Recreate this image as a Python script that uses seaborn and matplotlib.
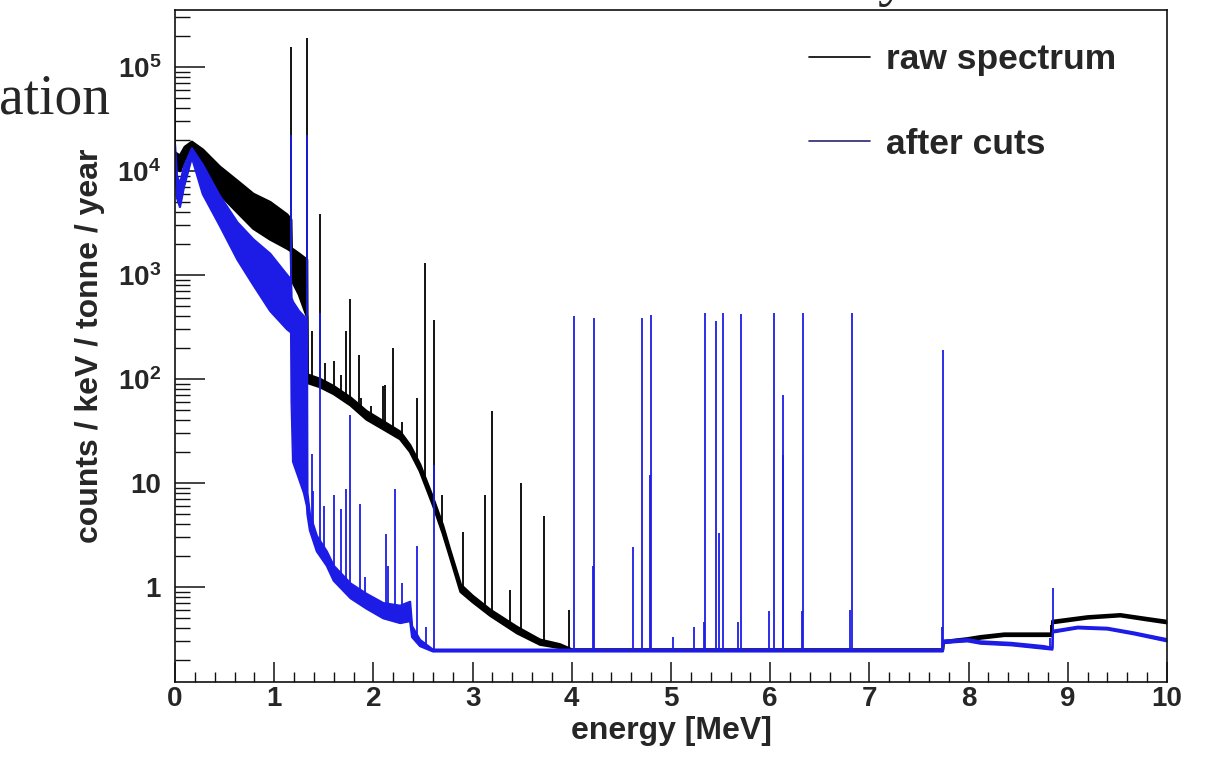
import numpy as np
import matplotlib
matplotlib.use("Agg")
import matplotlib.pyplot as plt
import seaborn as sns
from matplotlib.lines import Line2D
from matplotlib.ticker import FixedLocator, FixedFormatter, MultipleLocator, LogLocator, NullFormatter

# ---------------- data ----------------
# raw spectrum: envelope of the noisy histogram (energy in MeV, counts/keV/tonne/year)
raw_energy = [0.0, 0.05, 0.10, 0.17, 0.28, 0.45, 0.63, 0.79, 0.96, 1.13, 1.17, 1.175, 1.25, 1.33,
              1.335, 1.46, 1.60, 1.77, 1.93, 2.10, 2.27, 2.37, 2.47, 2.60, 2.70, 2.77, 2.88, 3.00,
              3.18, 3.45, 3.68, 3.88, 4.00, 7.74, 7.745, 7.99, 8.12, 8.36, 8.84, 8.845, 9.20, 9.53,
              9.80, 10.0]
raw_low = [1.1e4, 1.0e4, 1.3e4, 1.55e4, 1.0e4, 6.0e3, 4.0e3, 2.8e3, 2.2e3, 1.8e3, 1.7e3, 900, 650, 400,
           92, 84, 72, 56, 41, 33, 26.5, 20, 13, 6.2, 3.3, 2.0, 0.9, 0.72,
           0.53, 0.36, 0.28, 0.26, 0.245, 0.245, 0.29, 0.31, 0.32, 0.34, 0.34, 0.45, 0.50, 0.525,
           0.48, 0.45]
raw_high = [1.5e4, 1.4e4, 1.7e4, 1.9e4, 1.6e4, 1.1e4, 8.0e3, 6.0e3, 5.0e3, 3.8e3, 3.4e3, 1.8e3, 1.6e3, 1.4e3,
            110, 100, 85, 66, 49, 39, 31, 23, 15, 7.2, 3.9, 2.3, 1.05, 0.82,
            0.60, 0.41, 0.31, 0.28, 0.25, 0.25, 0.30, 0.32, 0.335, 0.355, 0.355, 0.47, 0.52, 0.545,
            0.50, 0.47]

# after cuts
cut_energy = [0.0, 0.02, 0.05, 0.09, 0.17, 0.28, 0.45, 0.63, 0.79, 0.96, 1.13, 1.17, 1.175, 1.19, 1.25,
              1.30, 1.33, 1.335, 1.36, 1.43, 1.53, 1.60, 1.77, 1.93, 2.10, 2.27, 2.37, 2.39, 2.47,
              2.60, 7.74, 7.745, 7.99, 8.12, 8.43, 8.76, 8.845, 8.85, 9.10, 9.40, 9.67, 10.0]
cut_low = [1.2e4, 5.5e3, 4.5e3, 7.0e3, 1.35e4, 6.0e3, 3.0e3, 1.4e3, 800, 450, 300, 280, 60, 16, 11,
           8, 6, 5, 3.5, 2.2, 1.6, 1.15, 0.78, 0.62, 0.50, 0.45, 0.47, 0.33, 0.27,
           0.24, 0.24, 0.29, 0.30, 0.285, 0.275, 0.255, 0.25, 0.365, 0.40, 0.39, 0.35, 0.30]
cut_high = [1.8e4, 9.0e3, 7.5e3, 1.1e4, 1.65e4, 1.15e4, 5.8e3, 3.2e3, 2.2e3, 1.6e3, 1.0e3, 900, 600, 550, 450,
            400, 350, 8, 5, 3.1, 2.2, 1.6, 1.08, 0.86, 0.70, 0.66, 0.72, 0.42, 0.31,
            0.25, 0.25, 0.305, 0.315, 0.30, 0.29, 0.27, 0.26, 0.38, 0.415, 0.405, 0.365, 0.315]

# gamma lines (energy, peak height)
raw_spike_energy = [0.004, 1.173, 1.333, 1.38, 1.46, 1.51, 1.60, 1.67, 1.72, 1.765, 1.85, 1.88, 1.98,
                    2.10, 2.12, 2.20, 2.29, 2.44, 2.52, 2.615, 2.69, 2.90, 3.13, 3.20, 3.38, 3.49,
                    3.72, 3.97, 8.83]
raw_spike_peak = [4.8e4, 1.56e5, 1.9e5, 290, 3.9e3, 143, 150, 110, 290, 590, 170, 66, 55,
                  85, 87, 200, 39, 66, 1.3e3, 370, 7.6, 3.4, 7.7, 49, 0.94, 10,
                  4.8, 0.6, 0.43]

cut_spike_energy = [1.173, 1.333, 1.38, 1.39, 1.46, 1.50, 1.60, 1.67, 1.72, 1.765, 1.86, 1.92, 2.13,
                    2.15, 2.22, 2.29, 2.44, 2.53, 2.615, 4.02, 4.21, 4.22, 4.62, 4.71, 4.79, 4.80,
                    5.02, 5.23, 5.33, 5.34, 5.45, 5.48, 5.52, 5.68, 5.71, 5.99, 6.04, 6.125, 6.13,
                    6.32, 6.33, 6.80, 6.82, 7.73, 7.74, 8.82, 8.85]
cut_spike_peak = [2.2e4, 2.2e4, 19, 8.3, 430, 6.0, 7.6, 5.6, 8.8, 45, 6.3, 1.25, 3.2,
                  1.6, 8.8, 1.1, 2.5, 0.41, 15, 407, 1.6, 390, 2.4, 390, 12, 415,
                  0.33, 0.41, 0.46, 435, 365, 3.3, 435, 0.46, 425, 0.59, 435, 18.5, 70,
                  0.59, 435, 0.60, 435, 0.41, 190, 0.32, 0.98]

legend_labels = ["raw spectrum", "after cuts"]
xtick_values = [0, 1, 2, 3, 4, 5, 6, 7, 8, 9, 10]
ytick_values = [1, 10, 100, 1e3, 1e4, 1e5]
ytick_labels = ["1", "10", r"$\mathbf{10^{2}}$", r"$\mathbf{10^{3}}$", r"$\mathbf{10^{4}}$", r"$\mathbf{10^{5}}$"]
x_title = "energy [MeV]"
y_title = "counts / keV / tonne / year"

# ---------------- style ----------------
sns.set_theme(style="ticks")
plt.rcParams["font.family"] = ["Liberation Sans", "DejaVu Sans"]
plt.rcParams["font.weight"] = "bold"
plt.rcParams["mathtext.fontset"] = "custom"
plt.rcParams["mathtext.rm"] = "Liberation Sans:bold"
plt.rcParams["mathtext.bf"] = "Liberation Sans:bold"
plt.rcParams["mathtext.it"] = "Liberation Sans:bold:italic"

RAW_C = "#000000"
CUT_C = "#1c1ce6"

fig = plt.figure(figsize=(12.1, 7.58), dpi=100)
ax = fig.add_axes([0.14463, 0.10026, 0.81983, 0.88654])
ax.set_yscale("log")


def draw_series(E, lo, hi, sE, sP, color, lw):
    E = np.asarray(E, float)
    lo = np.asarray(lo, float)
    hi = np.asarray(hi, float)
    ax.fill_between(E, lo, hi, color=color, linewidth=0, zorder=2)
    sns.lineplot(x=E, y=lo, color=color, lw=lw, estimator=None, sort=False, ax=ax, zorder=2)
    sns.lineplot(x=E, y=hi, color=color, lw=lw, estimator=None, sort=False, ax=ax, zorder=2)
    sE = np.asarray(sE, float)
    base = np.exp(np.interp(sE, E, np.log(hi)))
    ax.vlines(sE, base, np.asarray(sP, float), color=color, lw=1.3, zorder=2)


draw_series(raw_energy, raw_low, raw_high, raw_spike_energy, raw_spike_peak, RAW_C, 2.0)
draw_series(cut_energy, cut_low, cut_high, cut_spike_energy, cut_spike_peak, CUT_C, 1.6)

ax.set_xlim(0, 10)
ax.set_ylim(0.122, 3.53e5)

# axes / ticks (ROOT-like)
for s in ax.spines.values():
    s.set_visible(True)
    s.set_linewidth(1.2)
    s.set_color("#111111")

ax.xaxis.set_major_locator(FixedLocator(xtick_values))
ax.xaxis.set_major_formatter(FixedFormatter([str(v) for v in xtick_values]))
ax.xaxis.set_minor_locator(MultipleLocator(0.2))
ax.yaxis.set_major_locator(FixedLocator(ytick_values))
ax.yaxis.set_major_formatter(FixedFormatter(ytick_labels))
ax.yaxis.set_minor_locator(LogLocator(base=10, subs=np.arange(2, 10), numticks=30))
ax.yaxis.set_minor_formatter(NullFormatter())

ax.tick_params(axis="x", which="major", direction="in", length=14.4, width=1.1, labelsize=20, pad=3,
               top=False, color="#111111")
ax.tick_params(axis="x", which="minor", direction="in", length=7.2, width=1.0, top=False, color="#111111")
ax.tick_params(axis="y", which="major", direction="in", length=21.6, width=1.1, labelsize=20, pad=10,
               right=False, color="#111111")
ax.tick_params(axis="y", which="minor", direction="in", length=10.8, width=1.0, right=False, color="#111111")
for lab in ax.get_xticklabels() + ax.get_yticklabels():
    lab.set_fontweight("bold")

ax.set_xlabel(x_title, fontsize=23, fontweight="bold", labelpad=3)
ax.set_ylabel(y_title, fontsize=23, fontweight="bold", labelpad=9)

handles = [Line2D([], [], color=RAW_C, lw=1.2), Line2D([], [], color="#26266e", lw=1.2)]
ax.legend(handles, legend_labels, loc="upper left", bbox_to_anchor=(0.669, 0.943),
          bbox_transform=fig.transFigure, frameon=False, handlelength=1.7,
          handletextpad=0.45, labelspacing=1.45, borderpad=0, borderaxespad=0,
          prop={"weight": "bold", "size": 25.5})

# fragments of the surrounding slide text
fig.text(110 / 1210, 1 - 113 / 758, "ation", fontsize=40, family=["Liberation Serif", "DejaVu Serif"],
         fontweight="normal", ha="right", va="baseline")
fig.text(877 / 1210, 1 + 5 / 758, "y", fontsize=42, family=["Liberation Serif", "DejaVu Serif"],
         fontweight="normal", ha="left", va="baseline")

fig.savefig("out.png", dpi=100)
